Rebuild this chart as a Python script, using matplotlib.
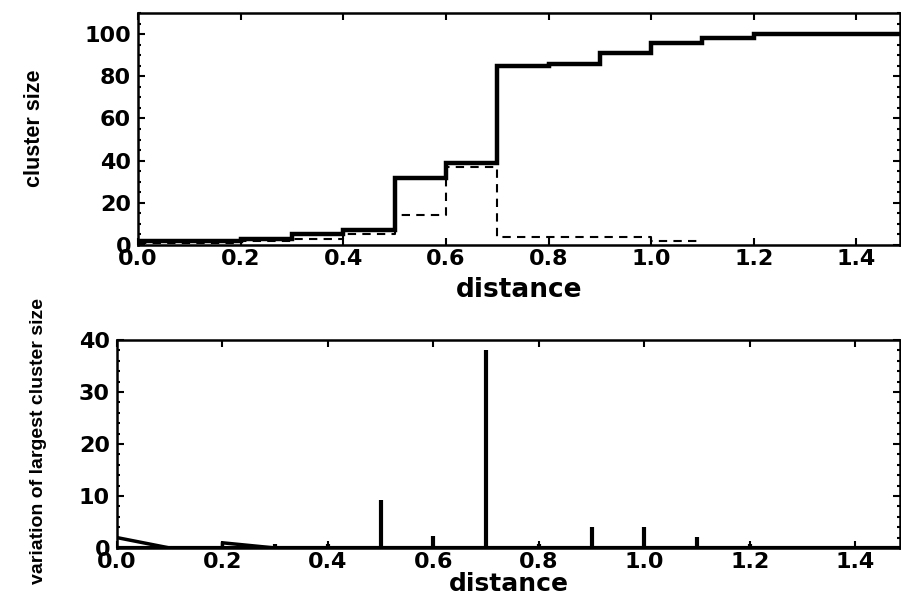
import matplotlib
matplotlib.use('Agg')
import matplotlib.pyplot as plt
from matplotlib.ticker import MultipleLocator, FormatStrFormatter

# bin edges of distance (step plot, values hold until next edge)
distance_edges = [0.0, 0.1, 0.2, 0.3, 0.4, 0.5, 0.6, 0.7, 0.8, 0.9, 1.0, 1.1, 1.2, 1.3, 1.4, 1.5]
largest_cluster = [2, 2, 3, 5, 7, 32, 39, 85, 86, 91, 96, 98, 100, 100, 100]
second_edges = [0.0, 0.1, 0.2, 0.3, 0.4, 0.5, 0.6, 0.7, 0.8, 0.9, 1.0, 1.1]
second_cluster = [1, 1, 2, 3, 5, 14, 37, 4, 4, 4, 2]

# variation of largest cluster size
ramp_x = [0.0, 0.1, 0.2, 0.2, 0.3]
ramp_y = [2, 0, 0, 1, 0]
spike_x = [0.3, 0.4, 0.5, 0.6, 0.7, 0.8, 0.9, 1.0, 1.1, 1.2, 1.4]
spike_y = [0.7, 0.8, 9.2, 2.3, 38, 0.7, 4, 4, 2.1, 0.7, 0.2]

label_font = 'Liberation Sans'
tick_font = {'family': 'DejaVu Sans', 'weight': 'bold', 'size': 16}

fig = plt.figure(figsize=(9.01, 5.99), dpi=100)
ax1 = fig.add_axes([138 / 901, 1 - 245 / 599, 762 / 901, 232 / 599])
ax2 = fig.add_axes([117 / 901, 1 - 548 / 599, 783 / 901, 208 / 599])

ax1.step(distance_edges, largest_cluster + [largest_cluster[-1]], where='post',
         color='black', lw=3.2, solid_joinstyle='miter')
ax1.step(second_edges, second_cluster + [second_cluster[-1]], where='post',
         color='black', lw=1.5, linestyle=(0, (4, 3)))
ax1.set_ylim(0, 110)
ax1.yaxis.set_major_locator(MultipleLocator(20))
ax1.yaxis.set_minor_locator(MultipleLocator(5))

ax2.plot(ramp_x, ramp_y, color='black', lw=2.5)
ax2.vlines(spike_x, 0, spike_y, color='black', lw=3)
ax2.axhline(0, color='black', lw=3)
ax2.set_ylim(0, 40)
ax2.yaxis.set_major_locator(MultipleLocator(10))
ax2.yaxis.set_minor_locator(MultipleLocator(2))

for ax in (ax1, ax2):
    ax.set_xlim(0, 1.485)
    ax.xaxis.set_major_locator(MultipleLocator(0.2))
    ax.xaxis.set_major_formatter(FormatStrFormatter('%.1f'))
    ax.tick_params(which='both', direction='in', top=True, right=True, width=1.5)
    ax.tick_params(which='major', length=5)
    ax.tick_params(which='minor', length=2.5)
    ax.tick_params(axis='x', which='minor', bottom=False, top=False)
    ax.tick_params(axis='x', pad=3)
    ax.tick_params(axis='y', pad=5)
    for lab in ax.get_xticklabels() + ax.get_yticklabels():
        lab.set_fontproperties(tick_font)
    for s in ax.spines.values():
        s.set_linewidth(1.8)

ax1.set_xlabel('distance', fontsize=19, fontweight='bold', labelpad=6)
ax2.set_xlabel('distance', fontsize=18, fontweight='bold', labelpad=0)

ax1.set_ylabel('cluster size', family=label_font, fontsize=15.5, fontweight='bold')
ax1.yaxis.set_label_coords(-0.122, 0.504)
ax2.set_ylabel('variation of largest cluster size', family=label_font, fontsize=14,
               fontweight='bold')
ax2.yaxis.set_label_coords(-0.09, 0.514)

fig.savefig('out.png', dpi=100)
